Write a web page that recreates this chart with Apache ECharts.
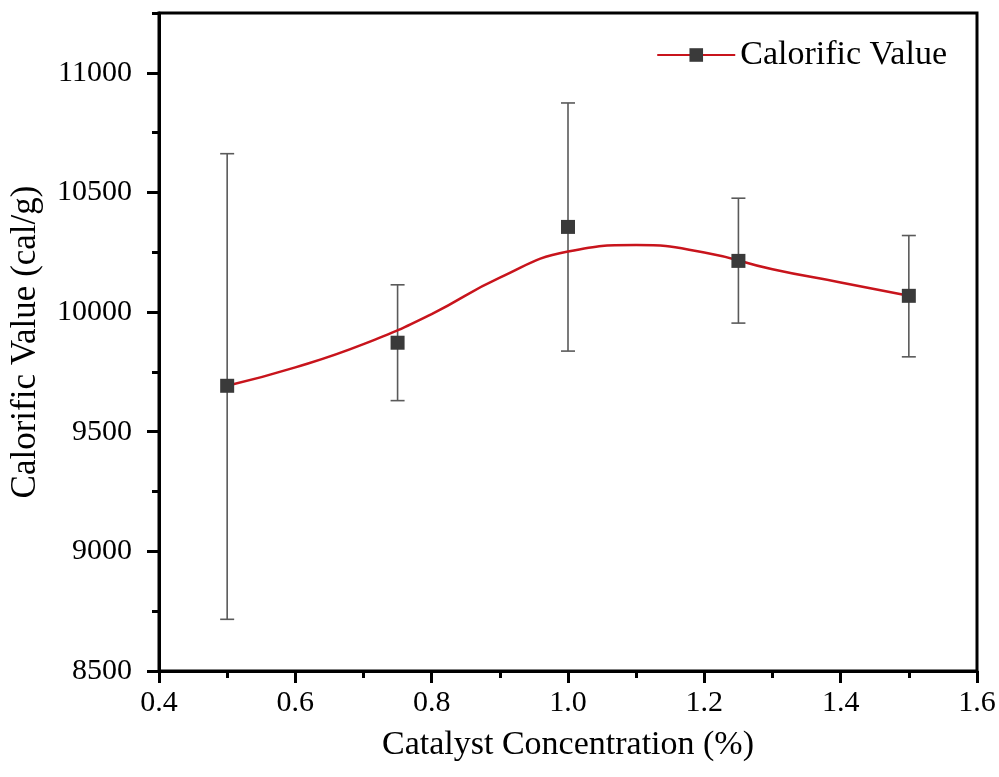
<!DOCTYPE html>
<html>
<head>
<meta charset="utf-8">
<script src="https://cdn.jsdelivr.net/npm/echarts@6/dist/echarts.min.js"></script>
<style>
  html, body { margin: 0; padding: 0; background: #fff; }
  #chart { width: 999px; height: 777px; }
</style>
</head>
<body>
<div id="chart"></div>
<script>
// measured points (catalyst %, calorific value cal/g) with error bars
const concentration = [0.5, 0.75, 1.0, 1.25, 1.5];
const calorific = [9692, 9872, 10356, 10214, 10068];
const errLow = [8716, 9630, 9837, 9954, 9813];
const errHigh = [10662, 10114, 10874, 10476, 10320];

// red smooth curve
const curveX = [0.5, 0.6, 0.7, 0.8, 0.9, 1.0, 1.1, 1.2, 1.3, 1.4, 1.5];
const curveY = [9692, 9769, 9866, 9992, 10144, 10253, 10280, 10249, 10179, 10124, 10068];

const xTicks = { min: 0.4, max: 1.6, step: 0.2 };
const yTicks = { min: 8500, max: 11250, step: 500 };

const FONT = 'Liberation Serif';
const chart = echarts.init(document.getElementById('chart'));

const option = {
  animation: false,
  backgroundColor: '#fff',
  grid: {
    left: 159,
    right: 22,
    top: 13,
    bottom: 106,
    show: true,
    borderColor: '#000',
    borderWidth: 3,
    backgroundColor: 'transparent'
  },
  legend: {
    right: 47,
    top: 33,
    itemWidth: 78,
    itemHeight: 17,
    data: ['Calorific Value'],
    textStyle: { fontFamily: FONT, fontSize: 34, color: '#000' }
  },
  xAxis: {
    type: 'value',
    min: xTicks.min,
    max: xTicks.max,
    interval: xTicks.step,
    name: 'Catalyst Concentration (%)',
    nameLocation: 'middle',
    nameGap: 57,
    nameTextStyle: { fontFamily: FONT, fontSize: 34, color: '#000' },
    axisLine: { show: true, lineStyle: { color: '#000', width: 3 } },
    axisTick: { show: true, length: 12, lineStyle: { color: '#000', width: 3 } },
    minorTick: { show: true, splitNumber: 2, length: 7, lineStyle: { color: '#000', width: 3 } },
    splitLine: { show: false },
    axisLabel: {
      margin: 17,
      fontFamily: FONT,
      fontSize: 30,
      color: '#000',
      formatter: v => v.toFixed(1)
    }
  },
  yAxis: [
    {
      type: 'value',
      min: yTicks.min,
      max: yTicks.max,
      interval: yTicks.step,
      name: 'Calorific Value (cal/g)',
      nameLocation: 'middle',
      nameGap: 116,
      nameTextStyle: { fontFamily: FONT, fontSize: 35, color: '#000' },
      axisLine: { show: true, lineStyle: { color: '#000', width: 3 } },
      axisTick: { show: true, length: 12, lineStyle: { color: '#000', width: 3 } },
      splitLine: { show: false },
      axisLabel: {
        margin: 27,
        showMaxLabel: false,
        fontFamily: FONT,
        fontSize: 30,
        color: '#000',
        formatter: v => String(v)
      }
    },
    {
      // minor ticks
      type: 'value',
      position: 'left',
      min: yTicks.min,
      max: yTicks.max,
      interval: yTicks.step / 2,
      axisLine: { show: false },
      axisTick: { show: true, length: 7, lineStyle: { color: '#000', width: 3 } },
      axisLabel: { show: false },
      splitLine: { show: false }
    }
  ],
  series: [
    {
      name: 'Calorific Value',
      type: 'line',
      smooth: 0.5,
      symbol: 'rect',
      symbolSize: 13,
      showSymbol: false,
      data: curveX.map((x, i) => [x, curveY[i]]),
      lineStyle: { color: '#c8141c', width: 2.5 },
      itemStyle: { color: '#3a3a3a' },
      z: 3
    },
    {
      name: 'errors',
      type: 'custom',
      data: concentration.map((x, i) => [x, errLow[i], errHigh[i]]),
      renderItem(params, api) {
        const lo = api.coord([api.value(0), api.value(1)]);
        const hi = api.coord([api.value(0), api.value(2)]);
        const cap = 7;
        const style = { stroke: '#5a5a5a', lineWidth: 1.6 };
        return {
          type: 'group',
          children: [
            { type: 'line', shape: { x1: lo[0], y1: lo[1], x2: hi[0], y2: hi[1] }, style },
            { type: 'line', shape: { x1: hi[0] - cap, y1: hi[1], x2: hi[0] + cap, y2: hi[1] }, style },
            { type: 'line', shape: { x1: lo[0] - cap, y1: lo[1], x2: lo[0] + cap, y2: lo[1] }, style }
          ]
        };
      },
      z: 2
    },
    {
      name: 'points',
      type: 'scatter',
      symbol: 'rect',
      symbolSize: 14,
      data: concentration.map((x, i) => [x, calorific[i]]),
      itemStyle: { color: '#3a3a3a', opacity: 1 },
      z: 4
    }
  ]
};

chart.setOption(option);
</script>
</body>
</html>
